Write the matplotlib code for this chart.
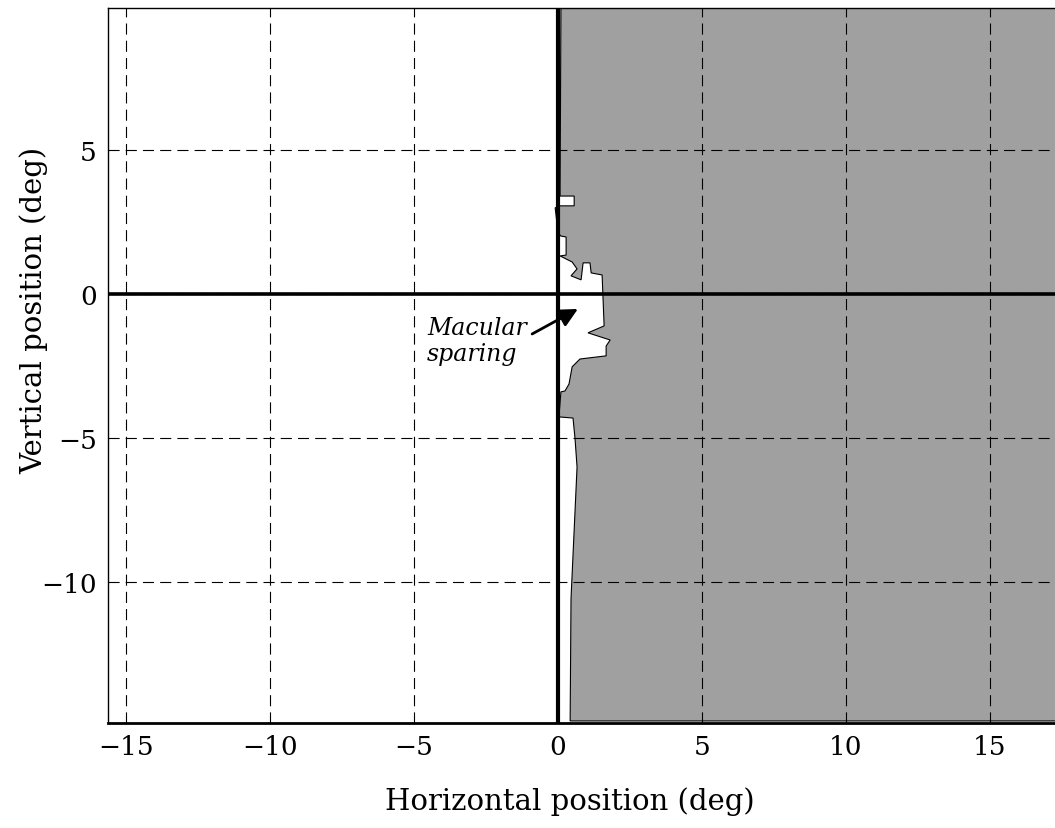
import matplotlib
matplotlib.use("Agg")
import matplotlib.pyplot as plt
from matplotlib.patches import Polygon

# Boundary of the blind (shaded) field, in degrees, traced top to bottom
# along the vertical meridian and closed around the right-hand field.
field_x = [0.10, 0.07, 0.56, 0.56, 0.07, -0.10, 0.00, 0.10, 0.28, 0.28, 0.07,
           0.49, 0.66, 0.45, 0.80, 0.87, 1.11, 1.15, 1.53, 1.60, 1.04, 1.81,
           1.67, 1.67, 0.76, 0.49, 0.38, 0.24, 0.10, 0.03, 0.52, 0.59, 0.66,
           0.45, 0.42, 18.0, 18.0]
field_y = [9.97, 3.40, 3.40, 3.06, 3.06, 2.99, 2.12, 2.01, 1.98, 1.35, 1.32,
           1.11, 0.87, 0.63, 0.49, 1.08, 1.08, 0.73, 0.66, -1.11, -1.35, -1.60,
           -1.81, -2.15, -2.26, -2.53, -3.13, -3.37, -3.40, -4.27, -4.31, -5.03,
           -6.01, -10.59, -14.83, -14.83, 9.97]

x_ticks = [-15, -10, -5, 0, 5, 10, 15]
y_ticks = [-10, -5, 0, 5]
x_limits = (-15.63, 17.26)
y_limits = (-14.9, 9.93)

plt.rcParams['font.family'] = ['DejaVu Serif']

fig = plt.figure(figsize=(10.55, 8.29), dpi=100)
ax = fig.add_axes([0.1024, 0.1267, 0.8976, 0.8624])

poly = Polygon(list(zip(field_x, field_y)), closed=True, facecolor='#a0a0a0',
               edgecolor='black', linewidth=0.8, zorder=1)
ax.add_patch(poly)

ax.set_xlim(*x_limits)
ax.set_ylim(*y_limits)
ax.set_xticks(x_ticks)
ax.set_yticks(y_ticks)
ax.set_xticklabels(['\u2212' + str(-t) if t < 0 else str(t) for t in x_ticks])
ax.set_yticklabels(['\u2212' + str(-t) if t < 0 else str(t) for t in y_ticks])
ax.tick_params(length=0, labelsize=19, pad=8)

ax.grid(True, color='black', linestyle=(0, (10, 5.5)), linewidth=0.8, zorder=2)
ax.set_axisbelow(False)

# Meridians
ax.axhline(0, color='black', linewidth=2.6, zorder=3)
ax.axvline(0, color='black', linewidth=3.0, zorder=3)

for side in ('left', 'top'):
    ax.spines[side].set_linewidth(1.0)
ax.spines['bottom'].set_linewidth(2.0)
ax.spines['right'].set_visible(False)

ax.set_xlabel('Horizontal position (deg)', fontsize=21)
ax.set_ylabel('Vertical position (deg)', fontsize=21)
ax.xaxis.set_label_coords(0.488, -0.088)
ax.yaxis.set_label_coords(-0.063, 0.579)

ax.text(-4.55, -1.62, 'Macular\nsparing', fontsize=17, style='italic',
        ha='left', va='center', zorder=5)
ax.annotate('', xy=(0.69, -0.52), xytext=(-0.90, -1.39),
            arrowprops=dict(arrowstyle='-|>', color='black', lw=2.0,
                            mutation_scale=28, shrinkA=0, shrinkB=0),
            zorder=5)

fig.savefig('out.png', dpi=100)
